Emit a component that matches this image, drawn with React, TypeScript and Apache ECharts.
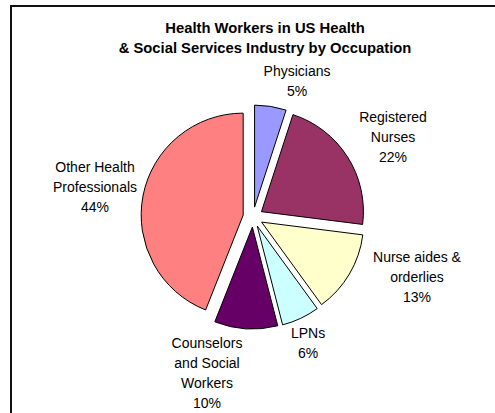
import React, { useEffect, useRef } from "react";
import * as echarts from "echarts";

const categories = [
  "Physicians",
  "Registered\nNurses",
  "Nurse aides &\norderlies",
  "LPNs",
  "Counselors\nand Social\nWorkers",
  "Other Health\nProfessionals",
];
const values = [5, 22, 13, 6, 10, 44];
const colors = ["#9999FF", "#993366", "#FFFFCC", "#CCFFFF", "#660066", "#FF8080"];
const titleLines = ["Health Workers in US Health", "& Social Services Industry by Occupation"];
// label block centres (px)
const labelPos: [number, number][] = [
  [297, 81],
  [393, 137],
  [417, 277],
  [308, 343],
  [207, 373],
  [95, 187],
];

const FONT = "Liberation Sans, Arial, sans-serif";

export default function App() {
  const ref = useRef<HTMLDivElement>(null);
  useEffect(() => {
    if (!ref.current) return;
    const chart = echarts.init(ref.current, null, { renderer: "svg" });
    const total = values.reduce((a, b) => a + b, 0);
    const labels = categories.map((name, i) => ({
      type: "text",
      x: labelPos[i][0],
      y: labelPos[i][1],
      style: {
        text: `${name}\n${Math.round((values[i] / total) * 100)}%`,
        fontFamily: FONT,
        fontSize: 14,
        lineHeight: 20,
        fill: "#000",
        align: "center",
        verticalAlign: "middle",
      },
      z: 20,
    }));
    chart.setOption({
      animation: false,
      backgroundColor: "#fff",
      title: {
        text: titleLines.join("\n"),
        left: 260,
        top: 13,
        textAlign: "center",
        textStyle: {
          fontFamily: FONT,
          fontSize: 14.8,
          fontWeight: "bold",
          color: "#000",
          lineHeight: 20,
        },
      },
      graphic: [
        {
          type: "rect",
          shape: { x: 11, y: 6, width: 520, height: 440 },
          style: { fill: "none", stroke: "#111", lineWidth: 2 },
          z: 10,
        },
        ...labels,
      ],
      series: [
        {
          type: "pie",
          center: [253, 217],
          radius: 102,
          startAngle: 90,
          clockwise: true,
          selectedMode: "multiple",
          selectedOffset: 10,
          itemStyle: { borderColor: "#000", borderWidth: 1 },
          label: { show: false },
          labelLine: { show: false },
          emphasis: { disabled: true },
          data: categories.map((name, i) => ({
            name,
            value: values[i],
            selected: true,
            itemStyle: { color: colors[i] },
          })),
        },
      ],
    });
    return () => chart.dispose();
  }, []);
  return (
    <div
      ref={ref}
      style={{ position: "fixed", left: 0, top: 0, width: 495, height: 413 }}
    />
  );
}
